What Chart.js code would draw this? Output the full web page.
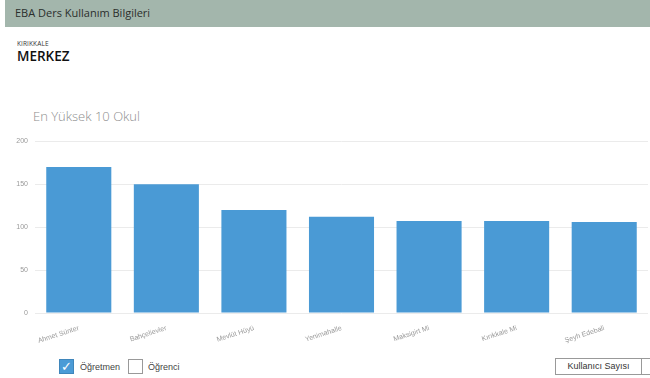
<!DOCTYPE html>
<html lang="tr">
<head>
<meta charset="utf-8">
<title>EBA Ders Kullanım Bilgileri</title>
<script src="https://cdn.jsdelivr.net/npm/chart.js@4/dist/chart.umd.min.js"></script>
<style>
  html, body { margin: 0; padding: 0; background: #fff; overflow: hidden; }
  body { width: 650px; height: 378px; position: relative; font-family: "Open Sans", "Noto Sans", sans-serif; }
  .header { position: absolute; left: 5px; top: 0; width: 645px; height: 27px; background: #a3b6ac; }
  .header span { position: absolute; left: 10px; top: 5px; font-size: 11px; color: #2b2f2d; }
  .il { position: absolute; left: 17px; top: 39px; font-size: 6.5px; color: #333; letter-spacing: 0.1px; }
  .ilce { position: absolute; left: 17px; top: 47px; font-size: 13.5px; color: #111; font-weight: 600; }
  .baslik { position: absolute; left: 33px; top: 107px; font-size: 13px; color: #8d8d8d; font-weight: 300; }
  .chart-box { position: absolute; left: 0; top: 130px; width: 650px; height: 215px; }
  .legend { position: absolute; top: 359px; font-family: "Liberation Sans", Arial, sans-serif; font-size: 9px; color: #444; }
  .cb { position: absolute; top: 359px; width: 13px; height: 13px; border: 1px solid #999; box-sizing: content-box; }
  .cb.on { background: #4b9bd6; border-color: #3f86bb; color: #fff; font-size: 13px; line-height: 13px; text-align: center; }
  .btn { position: absolute; top: 358px; height: 15px; border: 1px solid #999; font-family: "Liberation Sans", Arial, sans-serif; font-size: 9px; color: #333; text-align: center; line-height: 15px; background: #fff; }
</style>
</head>
<body>
<div class="header"><span>EBA Ders Kullanım Bilgileri</span></div>
<div class="il">KIRIKKALE</div>
<div class="ilce">MERKEZ</div>
<div class="baslik">En Yüksek 10 Okul</div>

<div class="chart-box"><canvas id="okul-chart" width="650" height="215"></canvas></div>

<div class="cb on" style="left:59px;">&#10003;</div>
<div class="legend" style="left:80px; top:362px;">Öğretmen</div>
<div class="cb" style="left:128px;"></div>
<div class="legend" style="left:148px; top:362px;">Öğrenci</div>
<div class="btn" style="left:555px; width:85px;">Kullanıcı Sayısı</div>
<div class="btn" style="left:641px; width:20px;"></div>

<script>
  // okul adları ve öğretmen sayıları
  const okullar = ['Ahmet Sünter', 'Bahçelievler', 'Mevlüt Hüyü', 'Yenimahalle', 'Maksigirt Mi', 'Kırıkkale Mi', 'Şeyh Edebali'];
  const ogretmenSayisi = [170, 150, 120, 112, 107, 107, 106];
  const yEksenMax = 200;
  const yEksenAdim = 50;

  const barRenk = '#4a9ad5';
  const gridRenk = '#ebebeb';

  const ctx = document.getElementById('okul-chart').getContext('2d');
  new Chart(ctx, {
    type: 'bar',
    data: {
      labels: okullar,
      datasets: [{
        label: 'Öğretmen',
        data: ogretmenSayisi,
        backgroundColor: barRenk,
        borderWidth: 0,
        barPercentage: 0.743,
        categoryPercentage: 1
      }]
    },
    options: {
      responsive: false,
      animation: false,
      layout: { padding: { top: 11, right: 2, left: 0, bottom: 0 } },
      plugins: { legend: { display: false }, tooltip: { enabled: false } },
      scales: {
        x: {
          grid: { display: false },
          border: { display: false },
          ticks: {
            minRotation: 18,
            maxRotation: 18,
            padding: 3,
            color: '#999999',
            font: { family: 'Liberation Sans', size: 7 }
          },
          afterFit: function (axis) { axis.height = 32; }
        },
        y: {
          min: 0,
          max: yEksenMax,
          grid: { color: gridRenk, drawTicks: false },
          border: { display: false },
          ticks: {
            stepSize: yEksenAdim,
            padding: 7,
            color: '#999999',
            font: { family: 'Liberation Sans', size: 7 }
          },
          afterFit: function (axis) { axis.width = 35; }
        }
      }
    }
  });
</script>
</body>
</html>
